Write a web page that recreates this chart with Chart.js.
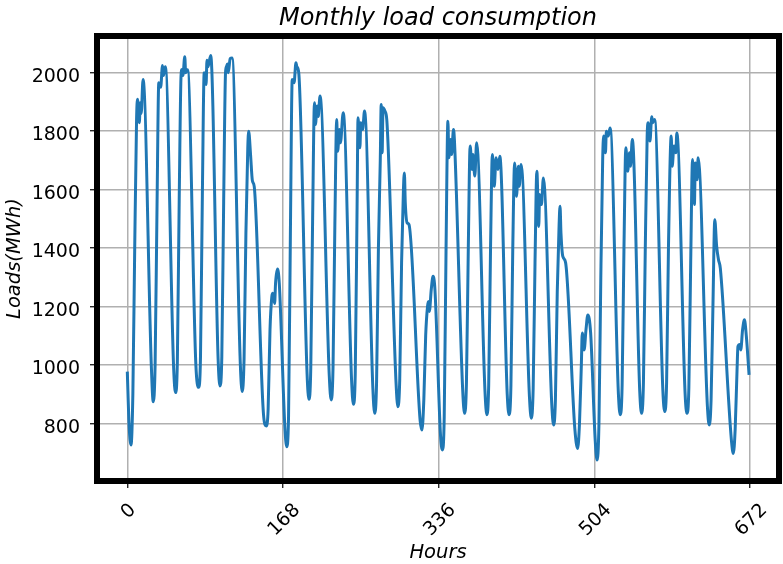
<!DOCTYPE html>
<html>
<head>
<meta charset="utf-8">
<script src="https://cdn.jsdelivr.net/npm/chart.js@4/dist/chart.umd.min.js"></script>
<style>
  html, body { margin: 0; padding: 0; background: #fff; }
  canvas { display: block; }
</style>
</head>
<body>
<canvas id="chart" width="783" height="564"></canvas>
<script>
// Texts
const chartTitle = 'Monthly load consumption';
const xAxisLabel = 'Hours';
const yAxisLabel = 'Loads(MWh)';

// Tick labels
const xTickValues = [0, 168, 336, 504, 672];
const yTickValues = [800, 1000, 1200, 1400, 1600, 1800, 2000];

// Hourly load samples (hour index, MWh), four weeks
const hours = [
  0, 2, 4, 6, 8, 10, 11, 13, 14, 15, 17, 26, 28,
  30, 32, 34, 36, 38, 39, 41, 50, 52,
  54, 56, 58, 59, 60, 62, 63, 65, 74, 77,
  79, 81, 83, 85, 86, 87, 90, 98, 100,
  102, 104, 106, 107, 108, 109, 111, 113, 122, 124,
  126, 128, 130, 131, 133, 135, 137, 147, 150,
  152, 154, 156, 157, 159, 160, 162, 164, 170, 172,
  174, 176, 178, 180, 182, 183, 185, 194, 196,
  198, 200, 202, 203, 205, 206, 208, 218, 220,
  222, 224, 226, 227, 229, 230, 233, 242, 244,
  246, 248, 249, 251, 252, 254, 256, 265, 267,
  269, 271, 273, 274, 275, 276, 278, 280, 290, 292,
  294, 296, 298, 299, 300, 302, 304, 316, 318,
  320, 322, 324, 325, 326, 328, 330, 332, 338, 340,
  342, 344, 346, 347, 349, 350, 352, 353, 362, 364,
  366, 368, 370, 372, 373, 375, 377, 386, 388,
  390, 392, 394, 396, 398, 400, 402, 410, 412,
  414, 416, 418, 420, 422, 423, 425, 434, 436,
  438, 440, 442, 444, 445, 447, 449, 458, 460,
  462, 464, 466, 467, 468, 470, 473, 483, 486,
  488, 490, 491, 493, 495, 497, 500, 505, 507,
  509, 511, 513, 514, 516, 517, 519, 521, 530, 532,
  534, 536, 538, 540, 542, 543, 545, 553, 555,
  557, 559, 561, 562, 564, 566, 567, 569, 578, 580,
  582, 584, 587, 588, 590, 592, 593, 602, 604,
  606, 608, 610, 612, 613, 615, 616, 626, 628,
  630, 632, 634, 636, 638, 640, 652, 654,
  656, 658, 659, 661, 662, 664, 666, 668, 671
];
const loadsMWh = [
  977, 790, 726, 900, 1400, 1840, 1909, 1829, 1897, 1860, 1977, 990, 874,
  1000, 1520, 1966, 1950, 2025, 1990, 2020, 990, 905,
  1010, 1560, 1990, 2011, 1990, 2055, 2000, 2010, 1000, 923,
  1030, 1580, 2000, 1960, 2043, 2020, 2059, 1020, 928,
  1030, 1560, 2000, 2020, 2030, 2000, 2048, 2050, 1000, 909,
  1020, 1450, 1740, 1800, 1720, 1630, 1610, 830, 791,
  850, 1120, 1234, 1245, 1210, 1280, 1328, 1280, 790, 720,
  820, 1450, 1977, 1966, 2034, 2020, 2000, 970, 882,
  990, 1500, 1897, 1823, 1886, 1850, 1920, 960, 880,
  990, 1480, 1840, 1731, 1806, 1760, 1863, 950, 865,
  970, 1550, 1846, 1743, 1829, 1806, 1869, 920, 834,
  940, 1400, 1700, 1891, 1726, 1880, 1869, 1840, 940, 857,
  950, 1350, 1600, 1657, 1554, 1486, 1480, 810, 777,
  880, 1100, 1200, 1217, 1183, 1257, 1303, 1257, 760, 709,
  820, 1400, 1834, 1709, 1771, 1720, 1806, 1771, 910, 834,
  940, 1400, 1749, 1669, 1720, 1646, 1760, 910, 829,
  930, 1400, 1720, 1611, 1709, 1669, 1714, 900, 829,
  930, 1400, 1691, 1577, 1680, 1611, 1686, 890, 817,
  920, 1350, 1663, 1474, 1583, 1549, 1640, 870, 794,
  880, 1250, 1480, 1543, 1451, 1371, 1350, 780, 714,
  800, 1000, 1109, 1051, 1120, 1171, 1110, 740, 674,
  800, 1300, 1700, 1783, 1726, 1800, 1783, 1811, 900, 829,
  930, 1400, 1743, 1663, 1726, 1680, 1771, 910, 834,
  940, 1400, 1780, 1829, 1766, 1849, 1829, 1840, 910, 840,
  940, 1400, 1783, 1680, 1749, 1726, 1794, 900, 834,
  920, 1350, 1703, 1549, 1691, 1634, 1709, 860, 794,
  880, 1200, 1497, 1406, 1360, 1330, 740, 697,
  780, 980, 1063, 1070, 1051, 1120, 1154, 1100, 966
];

const FONT = '"DejaVu Sans", "Liberation Sans", sans-serif';
const TICK_PX = 19;
const CAP = 0.729 * TICK_PX;

// Thick frame, tick labels and titles drawn on top of the plot
const frameAndText = {
  id: 'frameAndText',
  afterDraw(chart) {
    const { ctx, chartArea: a, scales: { x, y } } = chart;
    ctx.save();
    ctx.strokeStyle = '#000';
    ctx.lineWidth = 6;
    ctx.strokeRect(a.left, a.top, a.right - a.left, a.bottom - a.top);

    ctx.fillStyle = '#000';
    ctx.font = TICK_PX + 'px ' + FONT;
    ctx.textAlign = 'right';
    ctx.textBaseline = 'alphabetic';
    y.ticks.forEach(t => {
      ctx.fillText(String(t.value), a.left - 17, y.getPixelForValue(t.value) + CAP / 2 + 2.3);
    });

    x.ticks.forEach(t => {
      const label = String(t.value);
      const w = ctx.measureText(label).width;
      const box = (w + CAP) / Math.SQRT2;
      ctx.save();
      ctx.translate(x.getPixelForValue(t.value), a.bottom + 20 + box / 2);
      ctx.rotate(-Math.PI / 4);
      ctx.textAlign = 'center';
      ctx.fillText(label, 0, CAP / 2);
      ctx.restore();
    });

    ctx.textAlign = 'center';
    ctx.font = 'italic 24px ' + FONT;
    ctx.fillText(chartTitle, (a.left + a.right) / 2, 25);
    ctx.font = 'italic 19.5px ' + FONT;
    ctx.fillText(xAxisLabel, (a.left + a.right) / 2, 558);
    ctx.save();
    ctx.translate(19.5, (a.top + a.bottom) / 2);
    ctx.rotate(-Math.PI / 2);
    ctx.fillText(yAxisLabel, 0, 0);
    ctx.restore();
    ctx.restore();
  }
};

new Chart(document.getElementById('chart'), {
  type: 'line',
  data: {
    datasets: [{
      data: hours.map((h, i) => ({ x: h, y: loadsMWh[i] })),
      borderColor: '#1f77b4',
      borderWidth: 3,
      pointRadius: 0,
      cubicInterpolationMode: 'monotone',
      fill: false
    }]
  },
  options: {
    responsive: false,
    animation: false,
    events: [],
    layout: { padding: { left: 0, top: 36, right: 4, bottom: 0 } },
    plugins: { legend: { display: false }, title: { display: false }, tooltip: { enabled: false } },
    scales: {
      x: {
        type: 'linear',
        min: -32.7,
        max: 703.3,
        afterBuildTicks: s => { s.ticks = xTickValues.map(v => ({ value: v })); },
        afterFit: s => { s.height = 83; },
        ticks: { display: false },
        border: { display: false },
        grid: { color: '#b0b0b0', lineWidth: 1.5, drawTicks: true, tickLength: 7, tickColor: '#000', tickWidth: 1.2 }
      },
      y: {
        type: 'linear',
        min: 602.5,
        max: 2125.6,
        afterBuildTicks: s => { s.ticks = yTickValues.map(v => ({ value: v })); },
        afterFit: s => { s.width = 97; },
        ticks: { display: false },
        border: { display: false },
        grid: { color: '#b0b0b0', lineWidth: 1.5, drawTicks: true, tickLength: 7, tickColor: '#000', tickWidth: 1.2 }
      }
    }
  },
  plugins: [frameAndText]
});
</script>
</body>
</html>
